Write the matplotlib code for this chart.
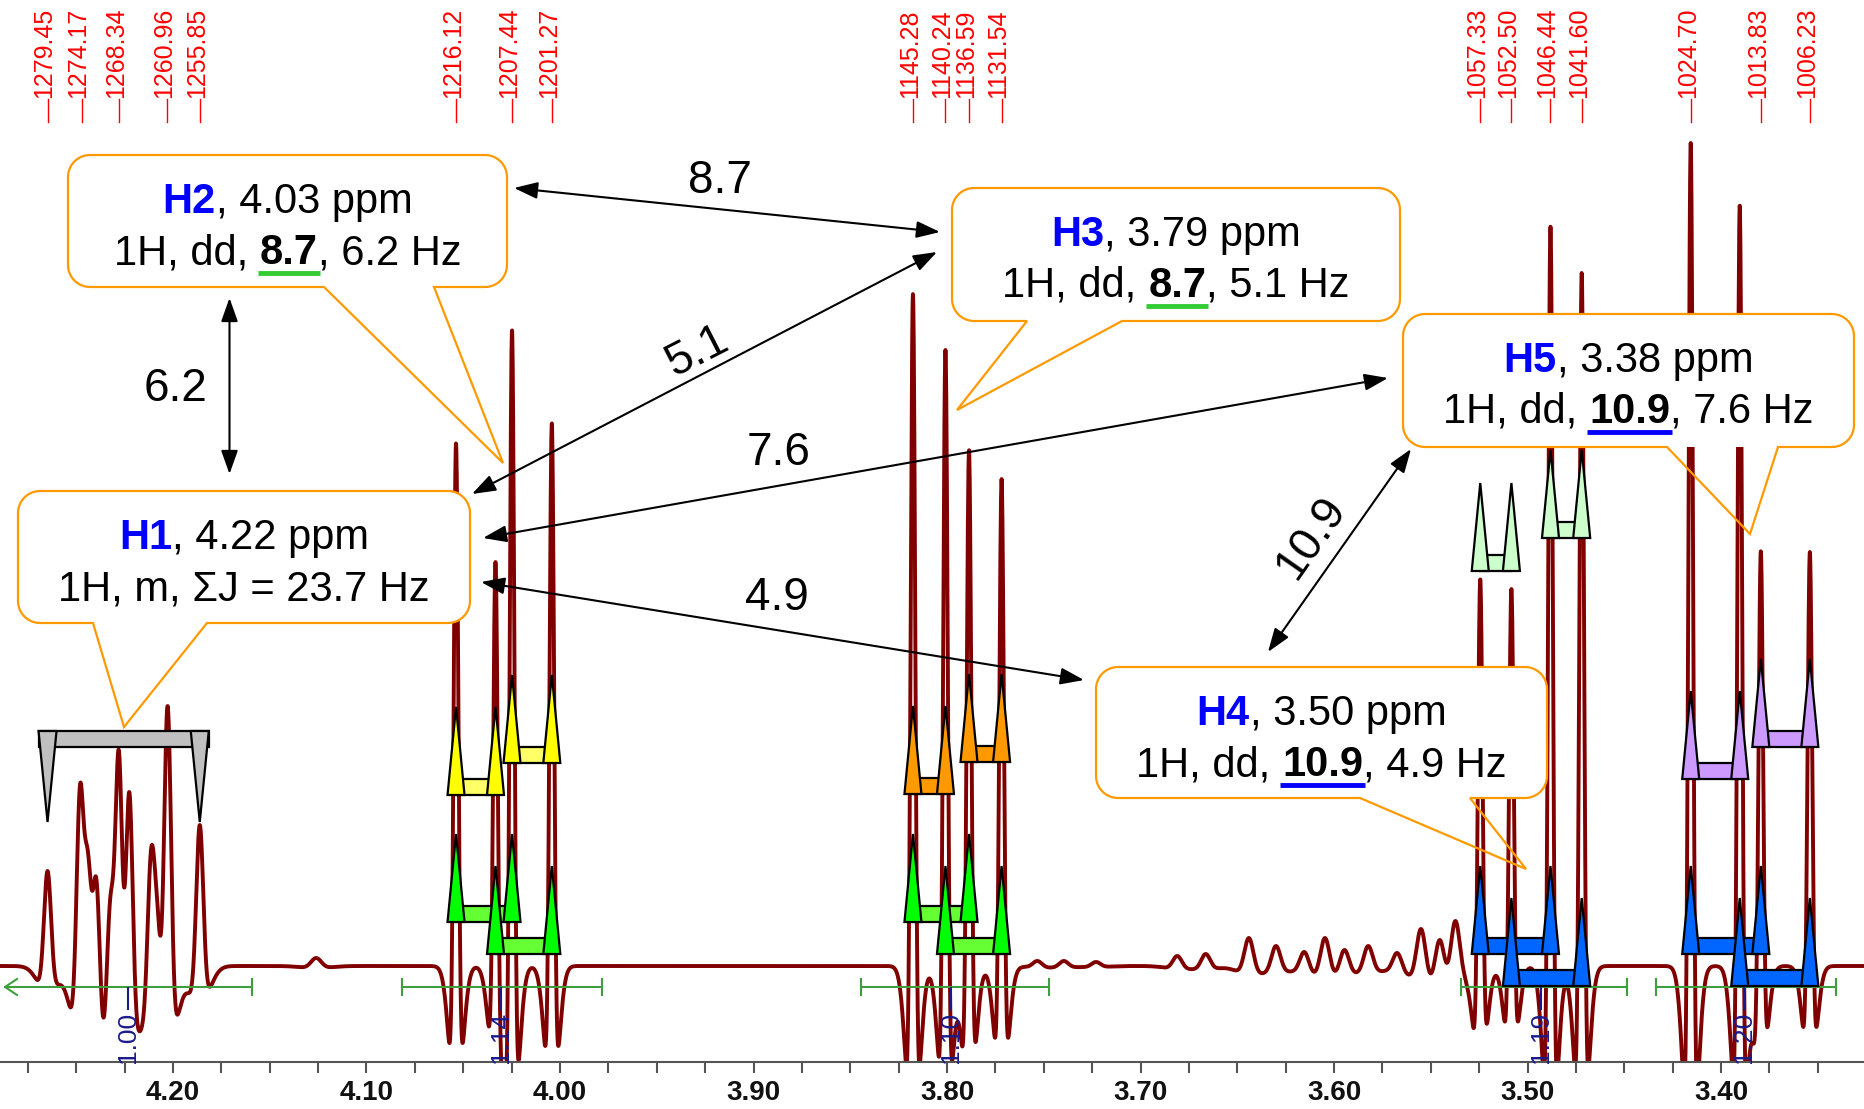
import numpy as np
import matplotlib
matplotlib.use('Agg')
import matplotlib.pyplot as plt
from matplotlib import font_manager
from matplotlib.patches import Polygon, Rectangle, FancyBboxPatch
from matplotlib.ticker import MultipleLocator

plt.rcParams['font.family'] = ['Liberation Sans', 'DejaVu Sans']

SF = 300.0  # spectrometer frequency (MHz): ppm = Hz / SF

# resolved lines: position (Hz), height above baseline (px), gaussian width (Hz)
line_hz = [1279.45, 1274.40, 1273.20, 1271.90, 1269.70, 1268.40, 1266.80, 1263.40, 1262.40, 1260.85, 1255.85,
           1237.80,
           1216.12, 1210.00, 1207.44, 1201.27,
           1145.28, 1140.24, 1136.59, 1131.54,
           1126.0, 1121.9, 1116.9, 1104.3, 1099.9, 1093.2, 1089.0, 1084.6, 1081.4, 1078.4, 1074.7,
           1070.2, 1066.5, 1063.6, 1061.2,
           1057.33, 1052.50, 1046.44, 1041.60,
           1024.70, 1017.10, 1013.83, 1006.23]
line_h = [95, 182, 115, 88, 70, 216, 174, 117, 60, 260, 141,
          8,
          523, 404, 636, 543,
          672, 616, 516, 487,
          5, 5, 4, 10, 12, 28, 20, 14, 28, 16, 20,
          13, 37, 26, 45,
          387, 377, 740, 693,
          823, 761, 415, 414]
line_w = [0.55] * 11 + [0.8] + [0.36] * 8 + [0.7] * 15 + [0.36] * 8

# peak picking labels (Hz)
label_hz = [1279.45, 1274.17, 1268.34, 1260.96, 1255.85, 1216.12, 1207.44, 1201.27,
            1145.28, 1140.24, 1136.59, 1131.54, 1057.33, 1052.50, 1046.44, 1041.60,
            1024.70, 1013.83, 1006.23]

# integrals (ppm)
int_from = [4.2868, 4.0817, 3.8444, 3.5345, 3.4336]
int_to = [4.1592, 3.9783, 3.7473, 3.4488, 3.3406]
int_pos = [4.2233, 4.0305, 3.7979, 3.4930, 3.3881]
int_val = ['1.00', '1.14', '1.10', '1.19', '1.20']

# multiplet trees: (left line Hz, right line Hz, base level px from top, triangle colour, bar colour)
tree_pairs = [
    (1216.12, 1210.00, 795, '#ffff00', '#ffff66'), (1207.44, 1201.27, 763, '#ffff00', '#ffff66'),
    (1216.12, 1207.44, 922, '#00ff00', '#66ff33'), (1210.00, 1201.27, 954, '#00ff00', '#66ff33'),
    (1145.28, 1140.24, 794, '#ff9900', '#ff9900'), (1136.59, 1131.54, 762, '#ff9900', '#ff9900'),
    (1145.28, 1136.59, 922, '#00ff00', '#66ff33'), (1140.24, 1131.54, 954, '#00ff00', '#66ff33'),
    (1057.33, 1052.50, 571, '#ccffcc', '#ccffcc'), (1046.44, 1041.60, 538, '#ccffcc', '#ccffcc'),
    (1057.33, 1046.44, 954, '#0066ff', '#0066ff'), (1052.50, 1041.60, 986, '#0066ff', '#0066ff'),
    (1024.70, 1017.10, 779, '#cc99ff', '#cc99ff'), (1013.83, 1006.23, 747, '#cc99ff', '#cc99ff'),
    (1024.70, 1013.83, 954, '#0066ff', '#0066ff'), (1017.10, 1006.23, 986, '#0066ff', '#0066ff'),
]
h1_range = [1279.45, 1255.85]

XL, XR = 4.2894, 3.3256
W, H = 1865, 1109
BASE = 966  # baseline row (px from top)

fig = plt.figure(figsize=(W / 100, H / 100), dpi=100)
ax = fig.add_axes([0, (H - 1062) / H, 1, 1062 / H])
ax.set_xlim(XL, XR)
ax.set_ylim(-(1062 - BASE), BASE)
ppx = W / (XL - XR)  # px per ppm


# resolution-enhanced line shape: narrow gaussian minus a wider one
def shape(d, s):
    return 1.3 * np.exp(-d ** 2 / (2 * s ** 2)) - 0.3 * np.exp(-d ** 2 / (2 * (2.67 * s) ** 2))


pos = np.array(line_hz)
wid = np.array(line_w)
M = shape(pos[:, None] - pos[None, :], wid[None, :])
amp = np.linalg.solve(M, np.array(line_h, float))

ppm = np.linspace(XL, XR, 9000)
hz = ppm * SF
spec = (amp[None, :] * shape(hz[:, None] - pos[None, :], wid[None, :])).sum(axis=1)
ax.plot(ppm, spec, color='#800000', lw=2.8, zorder=2)

for s in ['top', 'left', 'right']:
    ax.spines[s].set_visible(False)
ax.spines['bottom'].set_color('#555555')
ax.spines['bottom'].set_linewidth(1.5)
ax.set_yticks([])
names = {f.name for f in font_manager.fontManager.ttflist}
tick_family = 'Liberation Sans Narrow' if 'Liberation Sans Narrow' in names else 'Liberation Sans'
tick_vals = [4.2, 4.1, 4.0, 3.9, 3.8, 3.7, 3.6, 3.5, 3.4]
ax.set_xticks(tick_vals, [f'{v:.2f}' for v in tick_vals], fontsize=20, fontweight='bold',
              family=tick_family, color='#111111')
ax.xaxis.set_minor_locator(MultipleLocator(0.025))
ax.tick_params(which='both', direction='out', length=8, width=1.5, color='#555555', pad=5)

# multiplet trees
dx = 8.5 / ppx
for a, b, base, ct, cb in tree_pairs:
    xa, xb = a / SF, b / SF
    yb = BASE - base
    ax.add_patch(Rectangle((min(xa, xb), yb), abs(xa - xb), 16, fc=cb, ec='k', lw=1.6, zorder=3))
    for x in (xa, xb):
        ax.add_patch(Polygon([(x + dx, yb), (x - dx, yb), (x, yb + 88)], closed=True,
                             fc=ct, ec='k', lw=1.6, zorder=4))
# H1 bracket
g0, g1 = h1_range[0] / SF, h1_range[1] / SF
gx = 9 / ppx
ax.add_patch(Rectangle((g1 - gx, BASE - 747), (g0 - g1) + 2 * gx, 16, fc='#c0c0c0', ec='k', lw=1.6, zorder=3))
for x in (g0, g1):
    ax.add_patch(Polygon([(x + gx, BASE - 731), (x - gx, BASE - 731), (x, BASE - 822)], closed=True,
                         fc='#c0c0c0', ec='k', lw=1.6, zorder=4))

# integrals
ig = '#3f9f3f'
for i, (a, b) in enumerate(zip(int_from, int_to)):
    ax.plot([a, b], [-21, -21], color=ig, lw=1.5, zorder=2.5)
    ax.plot([b, b], [-13, -29], color=ig, lw=1.5, zorder=2.5)
    if i == 0:
        ax.plot([a - 12 / ppx, a, a - 12 / ppx], [-13, -21, -29], color=ig, lw=1.5, zorder=2.5)
    else:
        ax.plot([a, a], [-13, -29], color=ig, lw=1.5, zorder=2.5)

# overlay axes in pixel units (y down) for annotations
ann = fig.add_axes([0, 0, 1, 1])
ann.set_xlim(0, W)
ann.set_ylim(H, 0)
ann.axis('off')


def px(p):
    return ax.transData.transform((p, 0))[0]


for v in label_hz:
    x = px(v / SF)
    ann.plot([x, x], [99, 122], color='red', lw=1)
    ann.text(x - 3, 98, f'{v:.2f}', rotation=90, ha='center', va='bottom', color='red', fontsize=18)

navy = '#1a1a8c'
for p, v in zip(int_pos, int_val):
    x = px(p)
    ann.plot([x, x], [988, 1009], color=navy, lw=1.5)
    ann.text(x, 1012, v, rotation=90, ha='center', va='top', color=navy, fontsize=19)

# callout boxes
ORANGE = '#ff9900'


def arc(cx, cy, r, a0, a1):
    t = np.radians(np.linspace(a0, a1, 12))
    return list(zip(cx + r * np.cos(t), cy + r * np.sin(t)))


def callout(x0, y0, x1, y1, b0, b1, tip, r=22):
    ann.add_patch(FancyBboxPatch((x0 + r, y0 + r), x1 - x0 - 2 * r, y1 - y0 - 2 * r,
                                 boxstyle=f'round,pad={r}', fc='white', ec='none', zorder=5))
    pts = [(b1, y1)]
    pts += arc(x1 - r, y1 - r, r, 90, 0)
    pts += arc(x1 - r, y0 + r, r, 0, -90)
    pts += arc(x0 + r, y0 + r, r, -90, -180)
    pts += arc(x0 + r, y1 - r, r, 180, 90)
    pts += [(b0, y1), tip]
    ann.add_patch(Polygon(pts, closed=True, fill=False, ec=ORANGE, lw=1.6, zorder=6))


def rich_line(xc, yb, pieces, size=30):
    r = fig.canvas.get_renderer()
    sp = 0.278 * size * 100 / 72
    placed = []
    total = 0.0
    for s, color, weight, ul in pieces:
        if s == ' ':
            placed.append((None, sp, None))
            total += sp
            continue
        t = ann.text(0, yb, s, fontsize=size, ha='left', va='baseline', color=color,
                     fontweight=weight, zorder=8)
        w = t.get_window_extent(renderer=r).width
        placed.append((t, w, ul))
        total += w
    x = xc - total / 2
    for t, w, ul in placed:
        if t is not None:
            t.set_x(x)
            if ul:
                ann.plot([x - 2, x + w + 2], [yb + 9, yb + 9], color=ul, lw=3.5,
                         solid_capstyle='butt', zorder=8)
        x += w


boxes = [
    ((68, 155, 507, 287), (324, 434), (503, 463), 'H2', '4.03', [('1H, dd,', 'k', 'normal', None), (' ', 0, 0, 0),
     ('8.7', 'k', 'bold', '#33cc33'), (', 6.2 Hz', 'k', 'normal', None)]),
    ((952, 188, 1400, 321), (1027, 1122), (957, 410), 'H3', '3.79', [('1H, dd,', 'k', 'normal', None), (' ', 0, 0, 0),
     ('8.7', 'k', 'bold', '#33cc33'), (', 5.1 Hz', 'k', 'normal', None)]),
    ((18, 491, 470, 623), (93, 207), (124, 727), 'H1', '4.22', [('1H, m, ΣJ = 23.7 Hz', 'k', 'normal', None)]),
    ((1403, 314, 1854, 447), (1667, 1778), (1750, 534), 'H5', '3.38', [('1H, dd,', 'k', 'normal', None), (' ', 0, 0, 0),
     ('10.9', 'k', 'bold', '#0000ff'), (', 7.6 Hz', 'k', 'normal', None)]),
    ((1096, 667, 1547, 798), (1360, 1470), (1526, 869), 'H4', '3.50', [('1H, dd,', 'k', 'normal', None), (' ', 0, 0, 0),
     ('10.9', 'k', 'bold', '#0000ff'), (', 4.9 Hz', 'k', 'normal', None)]),
]
for (x0, y0, x1, y1), (b0, b1), tip, name, shift, line2 in boxes:
    callout(x0, y0, x1, y1, b0, b1, tip)
    xc = (x0 + x1) / 2
    rich_line(xc, y0 + 58, [(name, '#0000ff', 'bold', None), (f', {shift} ppm', 'k', 'normal', None)])
    rich_line(xc, y0 + 109, line2)

# coupling arrows: ends, label, label centre, label rotation
arrows = [
    ((514, 188), (940, 232), '8.7', (720, 181), 0),
    ((229.5, 298), (229.5, 474), '6.2', (176, 389), 0),
    ((472, 494), (937, 252), '5.1', (697, 352), 27),
    ((483, 538), (1388, 378), '7.6', (779, 453), 0),
    ((481, 582), (1084, 680), '4.9', (777, 598), 0),
    ((1268, 652), (1411, 449), '10.9', (1311, 538), 55),
]
for a, b, lab, lp, ang in arrows:
    ann.annotate('', xy=b, xytext=a, zorder=7,
                 arrowprops=dict(arrowstyle='<|-|>,head_length=0.9,head_width=0.32', color='k', lw=1.5,
                                 shrinkA=0, shrinkB=0, mutation_scale=16))
    ann.text(lp[0], lp[1], lab, fontsize=33, ha='center', va='center', rotation=ang,
             rotation_mode='anchor', zorder=7)

fig.savefig('out.png', dpi=100)
